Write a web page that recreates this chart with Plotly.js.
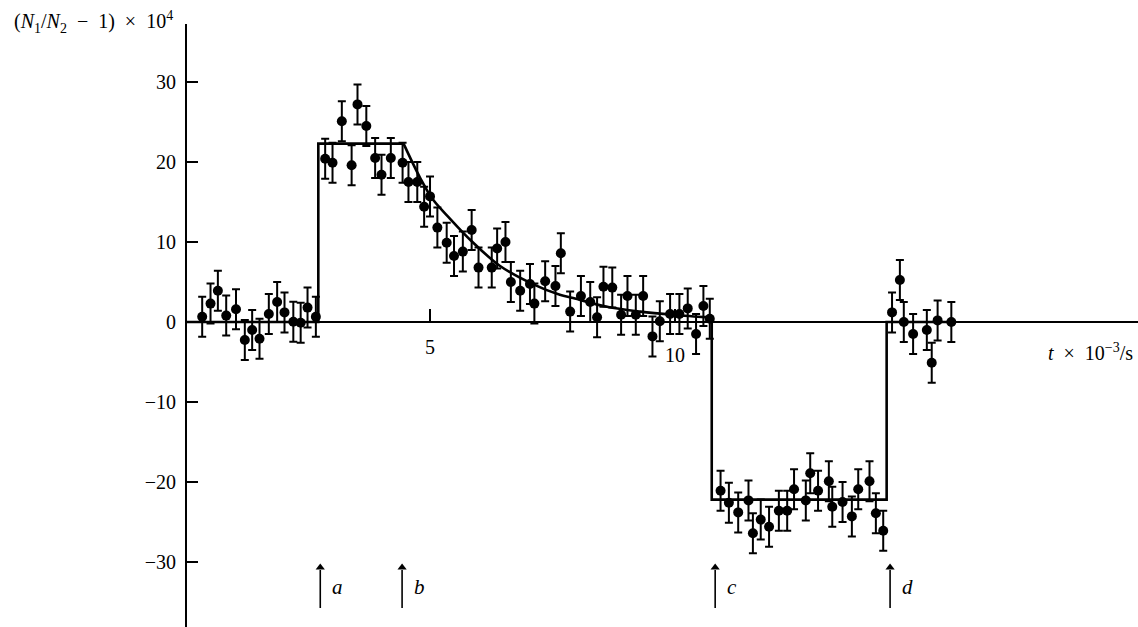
<!DOCTYPE html>
<html><head><meta charset="utf-8">
<script src="https://cdn.plot.ly/plotly-3.0.1.min.js"></script>
<style>html,body{margin:0;padding:0;background:#fff}#chart{width:1138px;height:627px}</style>
</head><body><div id="chart"></div>
<script>
// measured points: time (t x 10^-3 s) and (N1/N2 - 1) x 10^4
const timeData = [0.35,0.52,0.67,0.84,1.04,1.22,1.37,1.52,1.71,1.88,2.03,2.21,2.36,2.50,2.67,
  2.86,3.01,3.20,3.40,3.52,3.70,3.88,4.01,4.20,4.44,4.56,4.74,4.88,5.00,
  5.15,5.34,5.49,5.67,5.85,5.99,6.26,6.37,6.54,6.65,6.84,7.04,7.13,7.35,7.56,7.67,
  7.86,8.08,8.27,8.41,8.54,8.72,8.90,9.03,9.20,9.35,9.54,9.69,9.90,10.09,10.26,10.43,10.58,10.71,
  10.93,11.10,11.29,11.50,11.59,11.75,11.92,12.12,12.29,12.43,12.67,12.76,12.92,13.14,13.21,13.42,13.61,13.74,13.97,14.10,14.25,
  14.43,14.59,14.67,14.86,15.14,15.24,15.36,15.64];
const ratioData = [0.66,2.3,3.9,0.8,1.6,-2.25,-1.0,-2.1,1.0,2.5,1.2,0.04,-0.1,1.8,0.66,
  20.4,19.9,25.1,19.6,27.2,24.5,20.5,18.4,20.5,19.9,17.5,17.5,14.4,15.7,
  11.8,9.9,8.25,8.8,11.5,6.8,6.8,9.2,10.0,5.0,3.9,4.75,2.3,5.1,4.5,8.6,
  1.3,3.25,2.5,0.6,4.4,4.3,0.9,3.25,0.9,3.25,-1.8,0.1,1.0,1.0,1.7,-1.5,2.0,0.4,
  -21.1,-22.6,-23.8,-22.3,-26.4,-24.7,-25.6,-23.6,-23.6,-20.9,-22.3,-18.9,-21.1,-19.9,-23.1,-22.5,-24.3,-20.9,-19.9,-23.9,-26.1,
  1.2,5.25,0,-1.5,-1.0,-5.1,0.2,0];
const errorHalf = 2.5;

// fitted line
const stepAT = [0.04,2.72,2.72,4.46];
const stepAV = [0,0,22.3,22.3];
const decayT = [4.46,4.8,5.06,5.41,5.85,6.43,7.11,7.65,7.92,8.61,9.29,9.96,10.65,10.75];
const decayV = [22.3,18.0,15.3,12.9,10.1,7.0,4.7,3.4,3.0,1.9,1.3,0.9,0.6,0.6];
const stepCT = [10.75,10.75,14.32,14.32,15.7];
const stepCV = [0.6,-22.2,-22.2,0,0];

// axes and event markers
const yTicks = [-30,-20,-10,0,10,20,30];
const xTicks = [5,10];
const xTickLabels = ['5','10'];
const eventT = [2.76,4.43,10.82,14.39];
const eventLabels = ['a','b','c','d'];
const eventTail = -35.75, eventHead = -30.2, eventLabelY = -33.1;

const xRange = [0.04, 19.45];
const yRange = [-38.125, 37.25];
const FONT = 'Liberation Serif, Times New Roman, serif';
const lineStyle = {color:'#000', width:2.6};

// arrow shafts built from the event times
const shaftX = [], shaftY = [];
eventT.forEach(t=>{ shaftX.push(t,t,null); shaftY.push(eventTail,eventHead-0.8,null); });

const traces = [
  {x:stepAT, y:stepAV, mode:'lines', line:lineStyle, hoverinfo:'skip'},
  {x:decayT, y:decayV, mode:'lines', line:Object.assign({shape:'spline'}, lineStyle), hoverinfo:'skip'},
  {x:stepCT, y:stepCV, mode:'lines', line:lineStyle, hoverinfo:'skip'},
  {x:timeData, y:ratioData, mode:'markers', marker:{color:'#000', size:10},
   error_y:{type:'constant', value:errorHalf, color:'#000', thickness:2, width:4}},
  {x:shaftX, y:shaftY, mode:'lines', line:{color:'#000', width:1.6}, hoverinfo:'skip'},
  {x:eventT, y:eventT.map(()=>eventHead-0.5), mode:'markers',
   marker:{symbol:'triangle-up', size:8, color:'#000', line:{width:0}}, hoverinfo:'skip'}
];

const annotations = [];
xTicks.forEach((t,i)=>{
  annotations.push({x:t, y:0, xref:'x', yref:'y', text:xTickLabels[i], showarrow:false,
    yshift: i===0 ? -25 : -33, font:{family:FONT, size:20, color:'#000'}});
});
eventT.forEach((t,i)=>{
  annotations.push({x:t, y:eventLabelY, xref:'x', yref:'y', text:'<i>'+eventLabels[i]+'</i>', showarrow:false,
    xshift:17, font:{family:FONT, size:21, color:'#000'}});
});
annotations.push({xref:'paper', yref:'paper', x:-0.184, y:1.003, xanchor:'left', yanchor:'middle',
  text:'(<i>N</i><sub>1</sub>/<i>N</i><sub>2</sub>\u2002−\u20021)\u2002×\u200210<sup>4</sup>', showarrow:false,
  font:{family:FONT, size:20, color:'#000'}});
annotations.push({xref:'paper', yref:'y', x:0.997, y:-3.75, xanchor:'right', yanchor:'middle',
  text:'<i>t</i>\u2002×\u200210<sup>−3</sup>/s', showarrow:false, font:{family:FONT, size:20, color:'#000'}});

const layout = {
  width:1138, height:627,
  margin:{l:187, r:0, t:24, b:0, pad:0},
  paper_bgcolor:'#fff', plot_bgcolor:'#fff',
  showlegend:false,
  xaxis:{range:xRange, showgrid:false, zeroline:false, showline:true, linecolor:'#000', linewidth:2,
    anchor:'free', position:(0 - yRange[0])/(yRange[1]-yRange[0]),
    ticks:'inside', ticklen:12, tickwidth:2, tickcolor:'#000', tickvals:xTicks, showticklabels:false},
  yaxis:{range:yRange, showgrid:false, zeroline:false, showline:true, linecolor:'#000', linewidth:2,
    ticks:'inside', ticklen:11, tickwidth:2, tickcolor:'#000', tickvals:yTicks,
    ticklabelstandoff:5, tickfont:{family:FONT, size:20, color:'#000'}},
  annotations:annotations
};
Plotly.newPlot('chart', traces, layout, {displayModeBar:false, staticPlot:true});
</script></body></html>
